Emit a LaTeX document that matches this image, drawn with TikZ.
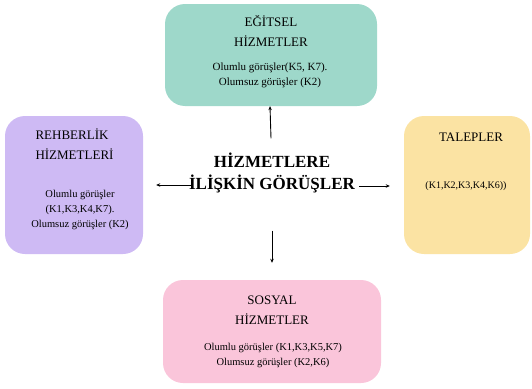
\documentclass[tikz,border=0pt]{standalone}
\usepackage{fontspec}
\setmainfont{Liberation Serif}
\usetikzlibrary{arrows.meta}
\definecolor{egitimc}{HTML}{9ED8CA}
\definecolor{rehberc}{HTML}{CEBAF4}
\definecolor{talepc}{HTML}{FBE3A3}
\definecolor{sosyalc}{HTML}{FAC5DA}
\tikzset{
	kutu/.style={rectangle, rounded corners=20pt, draw=none, inner sep=0pt},
	baslikyazi/.style={align=center, font=\fontsize{13}{19.5}\selectfont},
	govde/.style={align=center, font=\fontsize{10.5}{15}\selectfont},
	ok/.style={-{Stealth[length=4pt,width=3.5pt]}, line width=0.9pt}
}
\begin{document}
\begin{tikzpicture}[x=1pt, y=1pt]
		\useasboundingbox (0,0) rectangle (532,-388);
		% kutular
		\node[kutu, fill=egitimc, minimum width=212pt, minimum height=102pt] (egitsel) at (271,-55) {};
		\node[kutu, fill=rehberc, minimum width=138pt, minimum height=138pt] (rehber) at (74,-185) {};
		\node[kutu, fill=talepc, minimum width=126pt, minimum height=138pt] (talep) at (467,-185) {};
		\node[kutu, fill=sosyalc, minimum width=218pt, minimum height=103pt] (sosyal) at (272,-331.5) {};
		
		% yazilar
		\node[baslikyazi] (egitselT) at (271,-31) {EĞİTSEL\\HİZMETLER};
		\node[govde, font=\fontsize{11}{15}\selectfont] (egitselG) at (270,-75.5) {Olumlu görüşler(K5, K7).\\Olumsuz görüşler (K2)};
		
		\node[baslikyazi, align=left, anchor=west] (rehberT) at (32,-144) {REHBERLİK\\HİZMETLERİ};
		\node[govde] (rehberG) at (80,-210) {Olumlu görüşler\\(K1,K3,K4,K7).\\Olumsuz görüşler (K2)};
		
		\node[baslikyazi] (talepT) at (471,-137) {TALEPLER};
		\node[govde, font=\fontsize{10}{15}\selectfont] (talepG) at (466,-186) {(K1,K2,K3,K4,K6))};
		
		\node[baslikyazi] (sosyalT) at (272,-310) {SOSYAL\\HİZMETLER};
		\node[govde] (sosyalG) at (273,-355) {Olumlu görüşler (K1,K3,K5,K7)\\Olumsuz görüşler (K2,K6)};
		
		\node[align=center, font=\fontsize{17}{22}\selectfont\bfseries] (merkez) at (272,-173) {HİZMETLERE\\İLİŞKİN GÖRÜŞLER};
		
		% oklar
		\draw[ok] ([xshift=-1pt, yshift=11pt]merkez.north) -- ([xshift=-1pt]egitsel.south);
		\draw[ok] ([yshift=-34pt]merkez.south) -- ([yshift=17pt]sosyal.north);
		\draw[ok] ([xshift=7pt, yshift=-12pt]merkez.west) -- ([xshift=13pt, yshift=-12pt]merkez.west -| rehber.east);
		\draw[ok] ([xshift=1pt, yshift=-13pt]merkez.east) -- ([xshift=-14pt, yshift=-13pt]merkez.east -| talep.west);
	\end{tikzpicture}
\end{document}
